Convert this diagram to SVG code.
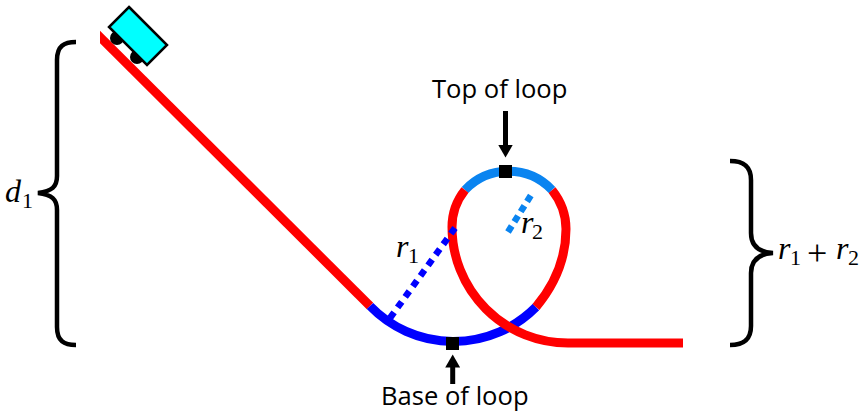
<svg xmlns="http://www.w3.org/2000/svg" width="863" height="414" viewBox="0 0 863 414">
<style>
.t{fill:none;stroke-width:9}
.red{stroke:#ff0000}
.blue{stroke:#0000ff}
.lb{stroke:#0a84f0}
.br{fill:none;stroke:#000;stroke-width:4.5}
.ar{fill:none;stroke:#000;stroke-width:5}
.lab{font-family:"Open Sans","Noto Sans",sans-serif;font-size:25.6px;fill:#000}
.m{font-family:"Liberation Serif",serif;font-style:italic;font-size:32px;fill:#000}
.s{font-family:"Liberation Serif",serif;font-size:22px;fill:#000}
.p{font-family:"Liberation Serif",serif;font-size:36px;fill:#000}
</style>
<defs><clipPath id="c"><rect x="100" y="0" width="763" height="414"/></clipPath>
<marker id="ah" markerUnits="userSpaceOnUse" markerWidth="14" markerHeight="15" refX="0.5" refY="7.5" orient="auto"><path d="M0 0L13 7.5L0 15Z" fill="#000"/></marker></defs>
<g id="connectors">
<path class="t red" clip-path="url(#c)" d="M95 32L370 306"/>
<path class="t blue" d="M370 306A116 116 0 0 0 536 307"/>
<path class="t red" d="M536 307C556 283 566 257 566 229C566 213 560 200 552 190"/>
<path class="t lb" d="M465 190A60 60 0 0 1 552 190"/>
<path class="t red" d="M465 190C457 200 452 213 452 227A116 116 0 0 0 568 343L683 343"/>
<path fill="none" stroke="#0000ff" stroke-width="6.5" stroke-dasharray="7 6" d="M390 318L455 228"/>
<path fill="none" stroke="#0a84f0" stroke-width="6.5" stroke-dasharray="7 5" d="M508 232L533 192"/>
<path class="ar" marker-end="url(#ah)" d="M505.5 111L505.5 145"/>
<path class="ar" marker-end="url(#ah)" d="M452.7 384L452.7 367"/>
</g>
<g id="cart"><circle cx="117" cy="38" r="7"/><circle cx="137" cy="57" r="7"/><path d="M129 7L167 45L147 65L109 27Z" fill="#00ffff" stroke="#000" stroke-width="2.5"/></g>
<g id="top-marker"><rect x="499" y="165" width="13" height="13"/></g>
<g id="base-marker"><rect x="446" y="337" width="13" height="13"/></g>
<g id="top-label"><text class="lab" x="432" y="98">Top of loop</text></g>
<g id="base-label"><text class="lab" x="381" y="405">Base of loop</text></g>
<g id="left-brace"><path class="br" d="M76 42C64 42 57 46 57 60L57 176C57 187 52 191 38 193C52 195 57 199 57 210L57 327C57 341 64 345 76 345"/><text class="m" x="5" y="202">d</text><text class="s" x="22" y="208">1</text></g>
<g id="right-brace"><path class="br" d="M730 161C742 161 751 165 751 180L751 233C751 244 757 252 773 253C757 254 751 262 751 273L751 326C751 341 742 345 730 345"/><text class="m" x="778" y="259">r</text><text class="s" x="790" y="265">1</text><text class="p" x="807" y="265">+</text><text class="m" x="836" y="259">r</text><text class="s" x="848" y="265">2</text></g>
<g id="r1-label"><text class="m" x="396" y="257">r</text><text class="s" x="408" y="263">1</text></g>
<g id="r2-label"><text class="m" x="521" y="233">r</text><text class="s" x="532" y="239">2</text></g>
</svg>
